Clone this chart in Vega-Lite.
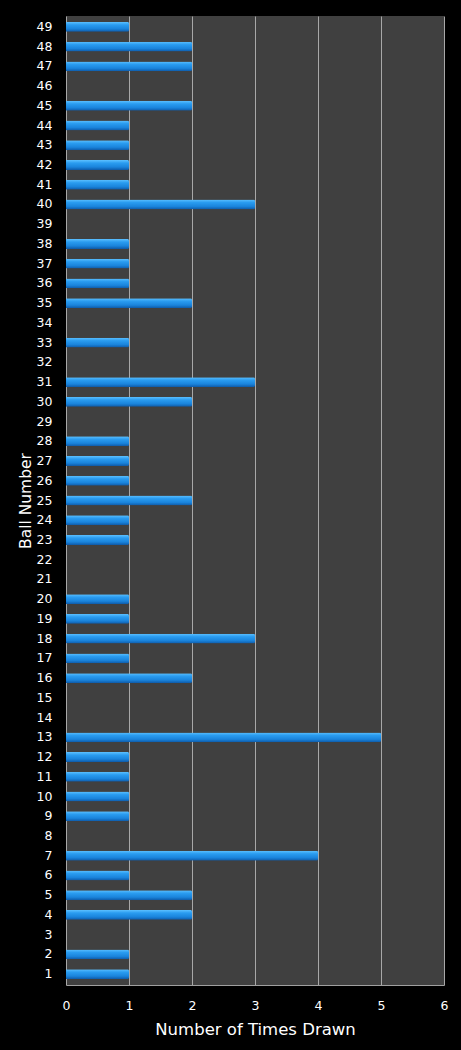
{
  "$schema": "https://vega.github.io/schema/vega-lite/v6.json",
  "autosize": "none",
  "width": 378,
  "height": 969,
  "padding": {"left": 66, "top": 16, "right": 17, "bottom": 65},
  "background": "#000000",
  "view": {"fill": "#404040", "stroke": null},
  "data": {"values": [
    {"ball": 1, "n": 1}, {"ball": 2, "n": 1}, {"ball": 3, "n": 0}, {"ball": 4, "n": 2}, {"ball": 5, "n": 2},
    {"ball": 6, "n": 1}, {"ball": 7, "n": 4}, {"ball": 8, "n": 0}, {"ball": 9, "n": 1}, {"ball": 10, "n": 1},
    {"ball": 11, "n": 1}, {"ball": 12, "n": 1}, {"ball": 13, "n": 5}, {"ball": 14, "n": 0}, {"ball": 15, "n": 0},
    {"ball": 16, "n": 2}, {"ball": 17, "n": 1}, {"ball": 18, "n": 3}, {"ball": 19, "n": 1}, {"ball": 20, "n": 1},
    {"ball": 21, "n": 0}, {"ball": 22, "n": 0}, {"ball": 23, "n": 1}, {"ball": 24, "n": 1}, {"ball": 25, "n": 2},
    {"ball": 26, "n": 1}, {"ball": 27, "n": 1}, {"ball": 28, "n": 1}, {"ball": 29, "n": 0}, {"ball": 30, "n": 2},
    {"ball": 31, "n": 3}, {"ball": 32, "n": 0}, {"ball": 33, "n": 1}, {"ball": 34, "n": 0}, {"ball": 35, "n": 2},
    {"ball": 36, "n": 1}, {"ball": 37, "n": 1}, {"ball": 38, "n": 1}, {"ball": 39, "n": 0}, {"ball": 40, "n": 3},
    {"ball": 41, "n": 1}, {"ball": 42, "n": 1}, {"ball": 43, "n": 1}, {"ball": 44, "n": 1}, {"ball": 45, "n": 2},
    {"ball": 46, "n": 0}, {"ball": 47, "n": 2}, {"ball": 48, "n": 2}, {"ball": 49, "n": 1}
  ]},
  "mark": {
    "type": "bar",
    "color": {
      "gradient": "linear", "x1": 0, "y1": 0, "x2": 0, "y2": 1,
      "stops": [
        {"offset": 0, "color": "#5cc0ff"},
        {"offset": 0.3, "color": "#2a9cf0"},
        {"offset": 0.7, "color": "#1a84dc"},
        {"offset": 1, "color": "#0e5aa8"}
      ]
    },
    "cornerRadiusEnd": 1.5
  },
  "encoding": {
    "y": {
      "field": "ball", "type": "ordinal", "sort": "descending",
      "scale": {"paddingInner": 0.5, "paddingOuter": 0.3},
      "axis": {
        "title": "Ball Number", "titleColor": "#ffffff", "titleFont": "DejaVu Sans", "titleFontSize": 15.5,
        "titleFontWeight": "normal", "titlePadding": 3,
        "labelColor": "#ffffff", "labelFont": "DejaVu Sans", "labelFontSize": 12.5, "labelPadding": 14,
        "ticks": false, "domain": false, "grid": false
      }
    },
    "x": {
      "field": "n", "type": "quantitative",
      "scale": {"domain": [0, 6], "nice": false},
      "axis": {
        "title": "Number of Times Drawn", "titleColor": "#ffffff", "titleFont": "DejaVu Sans", "titleFontSize": 16.5,
        "titleFontWeight": "normal", "titlePadding": 10,
        "values": [0, 1, 2, 3, 4, 5, 6], "format": "d", "labelFlush": false,
        "labelColor": "#ffffff", "labelFont": "DejaVu Sans", "labelFontSize": 12.5, "labelPadding": 14,
        "ticks": false, "domain": true, "domainColor": "#a0a0a0", "domainWidth": 1,
        "grid": true, "gridColor": "#a8a8a8", "gridWidth": 1, "gridOpacity": 1
      }
    }
  }
}
